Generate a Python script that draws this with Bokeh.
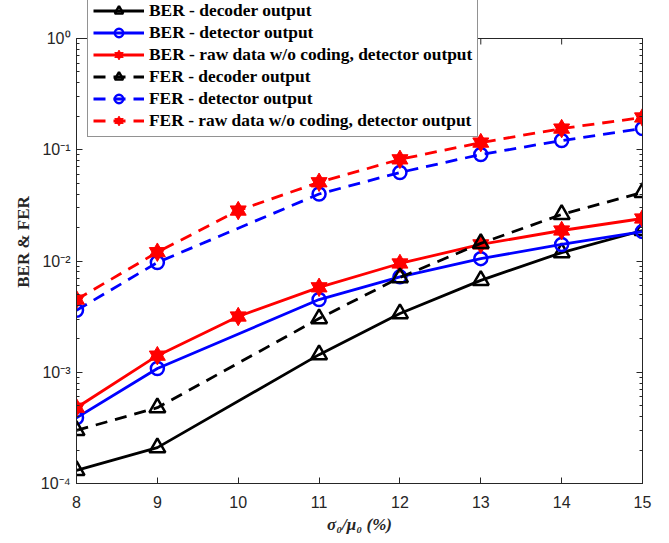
import math
from bokeh.plotting import figure
from bokeh.models import (Range1d, LogAxis, LogTicker, FixedTicker, Span,
                          CustomJSTickFormatter, Legend, LegendItem)
from bokeh.embed import file_html
from bokeh.resources import INLINE

# ---- data ----
x_all = [8, 9, 10, 11, 12, 13, 14, 15]
x_no10 = [8, 9, 11, 12, 13, 14, 15]

ber_decoder = [1.31e-4, 2.1e-4, 1.44e-3, 3.37e-3, 6.7e-3, 1.19e-2, 1.88e-2]
ber_detector = [3.9e-4, 1.08e-3, 4.5e-3, 7.2e-3, 1.05e-2, 1.41e-2, 1.84e-2]
ber_raw = [4.8e-4, 1.41e-3, 3.17e-3, 5.8e-3, 9.5e-3, 1.41e-2, 1.88e-2, 2.41e-2]
fer_decoder = [3.0e-4, 4.8e-4, 3.04e-3, 7.1e-3, 1.44e-2, 2.62e-2, 4.13e-2]
fer_detector = [3.6e-3, 9.7e-3, 4.0e-2, 6.25e-2, 9.06e-2, 0.121, 0.155]
fer_raw = [4.5e-3, 1.2e-2, 2.84e-2, 5.1e-2, 8.2e-2, 0.116, 0.155, 0.195]

labels = [
    "BER - decoder output",
    "BER - detector output",
    "BER - raw data w/o coding, detector output",
    "FER - decoder output",
    "FER - detector output",
    "FER - raw data w/o coding, detector output",
]
x_ticks = [8, 9, 10, 11, 12, 13, 14, 15]
y_min, y_max = 1e-4, 1e0

AX = "#262626"
TICK_FONT = "Liberation Sans"
SERIF = "Liberation Serif"

# The frame reaches the top of the canvas so the legend (which sits partly
# above the axes box) is not clipped; the axes box itself ends at y_max.
H_FRAME = 483
box_px = 445
y_top = 10 ** (math.log10(y_max) + (H_FRAME - box_px) / box_px * (math.log10(y_max) - math.log10(y_min)))

p = figure(width=669, height=543, x_axis_type="linear", y_axis_type="log",
           x_range=Range1d(8, 15), y_range=Range1d(y_min, y_top),
           output_backend="svg", toolbar_location=None,
           min_border_left=76, min_border_right=27, min_border_top=0,
           min_border_bottom=60)
p.grid.visible = False
p.background_fill_color = "white"
p.border_fill_color = "white"
p.outline_line_color = None

sup_js = """
const sup = {'-':'\u207b','0':'\u2070','1':'\u00b9','2':'\u00b2','3':'\u00b3','4':'\u2074',
             '5':'\u2075','6':'\u2076','7':'\u2077','8':'\u2078','9':'\u2079'};
const e = Math.round(Math.log10(tick));
return '10' + String(e).split('').map(c => sup[c]).join('');
"""

def style_axis(ax, labels_on=True):
    ax.axis_line_color = AX
    ax.major_tick_line_color = AX
    ax.minor_tick_line_color = AX
    ax.major_tick_in = 6
    ax.major_tick_out = 0
    ax.minor_tick_in = 3
    ax.minor_tick_out = 0
    ax.major_label_text_font = TICK_FONT
    ax.major_label_text_font_size = "16px"
    ax.major_label_text_color = AX if labels_on else None

xa = p.xaxis[0]
xa.ticker = FixedTicker(ticks=x_ticks)
style_axis(xa)
xa.major_label_standoff = 12
xa.axis_label = "σ₀/μ₀ (%)"
xa.axis_label_text_font = SERIF
xa.axis_label_text_font_style = "bold italic"
xa.axis_label_text_font_size = "17px"
xa.axis_label_text_color = AX
xa.axis_label_standoff = 4

ya = p.yaxis[0]
ya.ticker = LogTicker(num_minor_ticks=10)
ya.formatter = CustomJSTickFormatter(code=sup_js)
ya.bounds = (y_min, y_max)
style_axis(ya)
ya.major_label_standoff = 6
ya.axis_label = "BER & FER"
ya.axis_label_text_font = SERIF
ya.axis_label_text_font_style = "bold"
ya.axis_label_text_font_size = "17px"
ya.axis_label_text_color = AX
ya.axis_label_standoff = 5

right = LogAxis(ticker=LogTicker(num_minor_ticks=10), bounds=(y_min, y_max))
style_axis(right, labels_on=False)
right.major_label_text_font_size = "0px"
p.add_layout(right, "right")

# top edge of the axes box, with inward x ticks
p.add_layout(Span(location=y_max, dimension="width", line_color=AX, line_width=1))
p.ray(x=x_ticks, y=[y_max] * len(x_ticks), length=6, length_units="screen",
      angle=-math.pi / 2, line_color=AX, line_width=1)

LW = 2.8
DASH = "12 8"
items = []

def add_series(xs, ys, color, dash, marker, label):
    rs = [p.line(xs, ys, line_color=color, line_width=LW, line_dash=dash)]
    if marker == "tri":
        rs.append(p.scatter(xs, ys, marker="triangle", size=16, line_color=color,
                            line_width=2.5, fill_color=None))
    elif marker == "circ":
        rs.append(p.scatter(xs, ys, marker="circle", size=13, line_color=color,
                            line_width=2.5, fill_color=None))
    else:
        rs.append(p.scatter(xs, ys, marker="triangle", size=16, line_color=color,
                            line_width=1, fill_color=color))
        rs.append(p.scatter(xs, ys, marker="inverted_triangle", size=16, line_color=color,
                            line_width=1, fill_color=color))
    items.append(LegendItem(label=label, renderers=rs))

add_series(x_no10, ber_decoder, "black", "solid", "tri", labels[0])
add_series(x_no10, ber_detector, "blue", "solid", "circ", labels[1])
add_series(x_all, ber_raw, "red", "solid", "star", labels[2])
add_series(x_no10, fer_decoder, "black", DASH, "tri", labels[3])
add_series(x_no10, fer_detector, "blue", DASH, "circ", labels[4])
add_series(x_all, fer_raw, "red", DASH, "star", labels[5])

legend = Legend(items=items, location=(11, 346))
legend.label_text_font = SERIF
legend.label_text_font_style = "bold"
legend.label_text_font_size = "17.4px"
legend.label_text_color = "black"
legend.glyph_width = 51
legend.glyph_height = 21
legend.label_height = 21
legend.spacing = 1
legend.padding = 5
legend.margin = 0
legend.label_standoff = 5
legend.border_line_color = AX
legend.border_line_width = 1
legend.background_fill_color = "white"
legend.background_fill_alpha = 1
p.add_layout(legend, "center")

open("out.html", "w").write(file_html(p, INLINE))
